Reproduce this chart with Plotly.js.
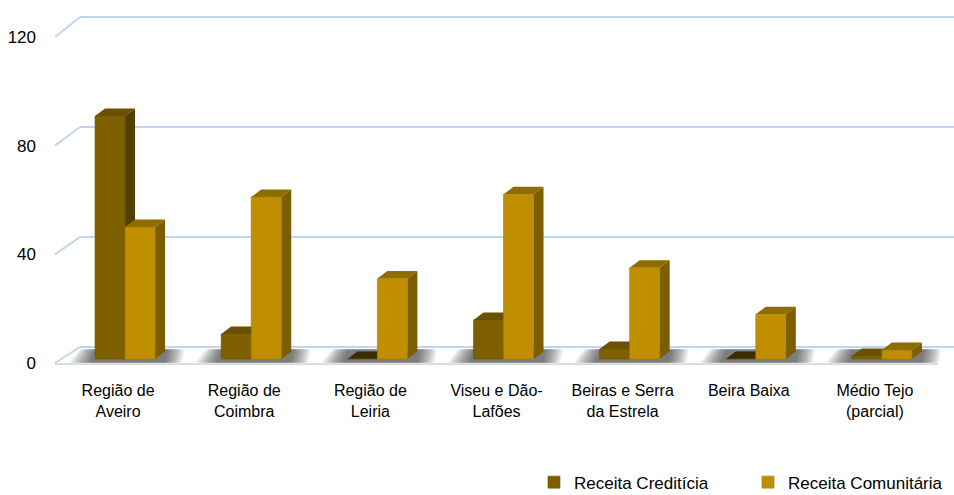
<!DOCTYPE html>
<html>
<head>
<meta charset="utf-8">
<script src="https://cdn.plot.ly/plotly-3.0.1.min.js"></script>
<style>html,body{margin:0;padding:0;background:#fff;}#chart{width:954px;height:495px;}</style>
</head>
<body>
<div id="chart"></div>
<script>
// ---- data ----
const categories = ["Região de<br>Aveiro", "Região de<br>Coimbra", "Região de<br>Leiria", "Viseu e Dão-<br>Lafões", "Beiras e Serra<br>da Estrela", "Beira Baixa", "Médio Tejo<br>(parcial)"];
const receitaCrediticia = [89.4, 9.2, 0, 14.4, 3.7, 0, 1.1];
const receitaComunitaria = [48.6, 59.6, 29.6, 60.6, 33.6, 16.5, 3.3];
const seriesNames = ["Receita Creditícia", "Receita Comunitária"];
const yTicks = [0, 40, 80, 120];

// ---- style ----
const FONT = "'Liberation Sans', Arial, sans-serif";
const FS = 16;
const cred = {front: '#7f6000', top: '#6a5000', side: '#524000'};
const com  = {front: '#bf8f00', top: '#8e6c00', side: '#7c5d00'};
const zeroTop = '#3a2c00';
const bargap = 0.524;
const barW = (1 - bargap) / 2;
const pxPerUnitY = 2.717, pxPerCat = 126.14;
const dx = 10 / pxPerCat, dy = 7.5 / pxPerUnitY;
const plotLeft = 62, plotW = 883;
const px2paper = p => (p - plotLeft) / plotW;

const shapes = [];
// back wall gridlines + diagonals
yTicks.forEach(t => {
  const back = t + (12 + 4 * t / 120) / pxPerUnitY;
  const front = t - 4 / pxPerUnitY;
  shapes.push({type: 'line', layer: 'below', xref: 'paper', yref: 'y', x0: px2paper(80), x1: px2paper(954), y0: back, y1: back, line: {color: '#bdd7ee', width: 2}});
  shapes.push({type: 'line', layer: 'below', xref: 'paper', yref: 'y', x0: px2paper(55), x1: px2paper(80), y0: front, y1: back, line: {color: '#bdd7ee', width: 2}});
});
// floor front edge
shapes.push({type: 'line', layer: 'below', xref: 'paper', yref: 'y', x0: px2paper(55), x1: px2paper(938), y0: -1.9, y1: -1.9, line: {color: '#d9d9d9', width: 2}});

// floor shadows (soft gradient built from stacked translucent layers)
const floorBack = 12 / pxPerUnitY;
const shadowSteps = 9;
categories.forEach((c, i) => {
  for (let k = 0; k < shadowSteps; k++) {
    const f = k / (shadowSteps - 1);
    const lb = 0.44 - 0.16 * f, lt = 0.36 - 0.12 * f, rb = 0.45 - 0.13 * f, rt = 0.47 - 0.13 * f;
    shapes.push({type: 'path', layer: 'below', xref: 'x2', yref: 'y', line: {width: 0},
      fillcolor: 'rgba(0,0,0,0.075)',
      path: `M${i - lb},${-1.4} L${i + rb},${-1.4} L${i + rt},${floorBack - 0.8} L${i - lt},${floorBack - 0.8} Z`});
  }
});

// 3D top and side faces
function faces(vals, offset, col) {
  vals.forEach((v, i) => {
    const x0 = i + offset, x1 = x0 + barW;
    shapes.push({type: 'path', layer: 'below', xref: 'x2', yref: 'y', line: {width: 0},
      fillcolor: col.side,
      path: `M${x1},0 L${x1},${v} L${x1 + dx},${v + dy} L${x1 + dx},${dy} Z`});
    shapes.push({type: 'path', layer: 'below', xref: 'x2', yref: 'y', line: {width: 0},
      fillcolor: v > 0.5 ? col.top : zeroTop,
      path: `M${x0},${v} L${x1},${v} L${x1 + dx},${v + dy} L${x0 + dx},${v + dy} Z`});
  });
}
faces(receitaCrediticia, -barW, cred);
faces(receitaComunitaria, 0, com);

const data = [
  {type: 'bar', name: seriesNames[0], x: categories, y: receitaCrediticia,
   marker: {color: cred.front, line: {color: '#6e5300', width: 0.6}}, hoverinfo: 'y'},
  {type: 'bar', name: seriesNames[1], x: categories, y: receitaComunitaria,
   marker: {color: com.front, line: {color: '#a57c00', width: 0.6}}, hoverinfo: 'y'}
];

const layout = {
  width: 954, height: 495,
  margin: {l: plotLeft, r: 954 - plotLeft - plotW, t: 16, b: 130, autoexpand: false},
  paper_bgcolor: '#fff', plot_bgcolor: 'rgba(0,0,0,0)',
  barmode: 'group', bargap: bargap, bargroupgap: 0,
  font: {family: FONT, size: FS, color: '#000'},
  xaxis: {type: 'category', range: [-0.5, 6.5], showgrid: false, zeroline: false, showline: false, automargin: false,
          ticks: '', tickfont: {family: FONT, size: FS, color: '#000'}, ticklabelshift: -7, ticklabelstandoff: 14},
  xaxis2: {overlaying: 'x', range: [-0.5, 6.5], visible: false, type: 'linear'},
  yaxis: {range: [-2.2, 126.25], tickvals: yTicks, ticktext: yTicks.map(String), showgrid: false, zeroline: false,
          showline: false, ticks: '', automargin: false, tickfont: {family: FONT, size: 17, color: '#000'},
          ticklabelshift: 4, ticklabelstandoff: 25},
  showlegend: true,
  legend: {orientation: 'h', x: px2paper(534), xanchor: 'left', y: -(501 - 365.3) / 349.3, yanchor: 'bottom',
           font: {family: FONT, size: 17, color: '#000'}, entrywidth: 169, entrywidthmode: 'pixels',
           bgcolor: 'rgba(0,0,0,0)', traceorder: 'normal'},
  shapes: shapes
};

Plotly.newPlot('chart', data, layout, {displayModeBar: false, staticPlot: true});
</script>
</body>
</html>
